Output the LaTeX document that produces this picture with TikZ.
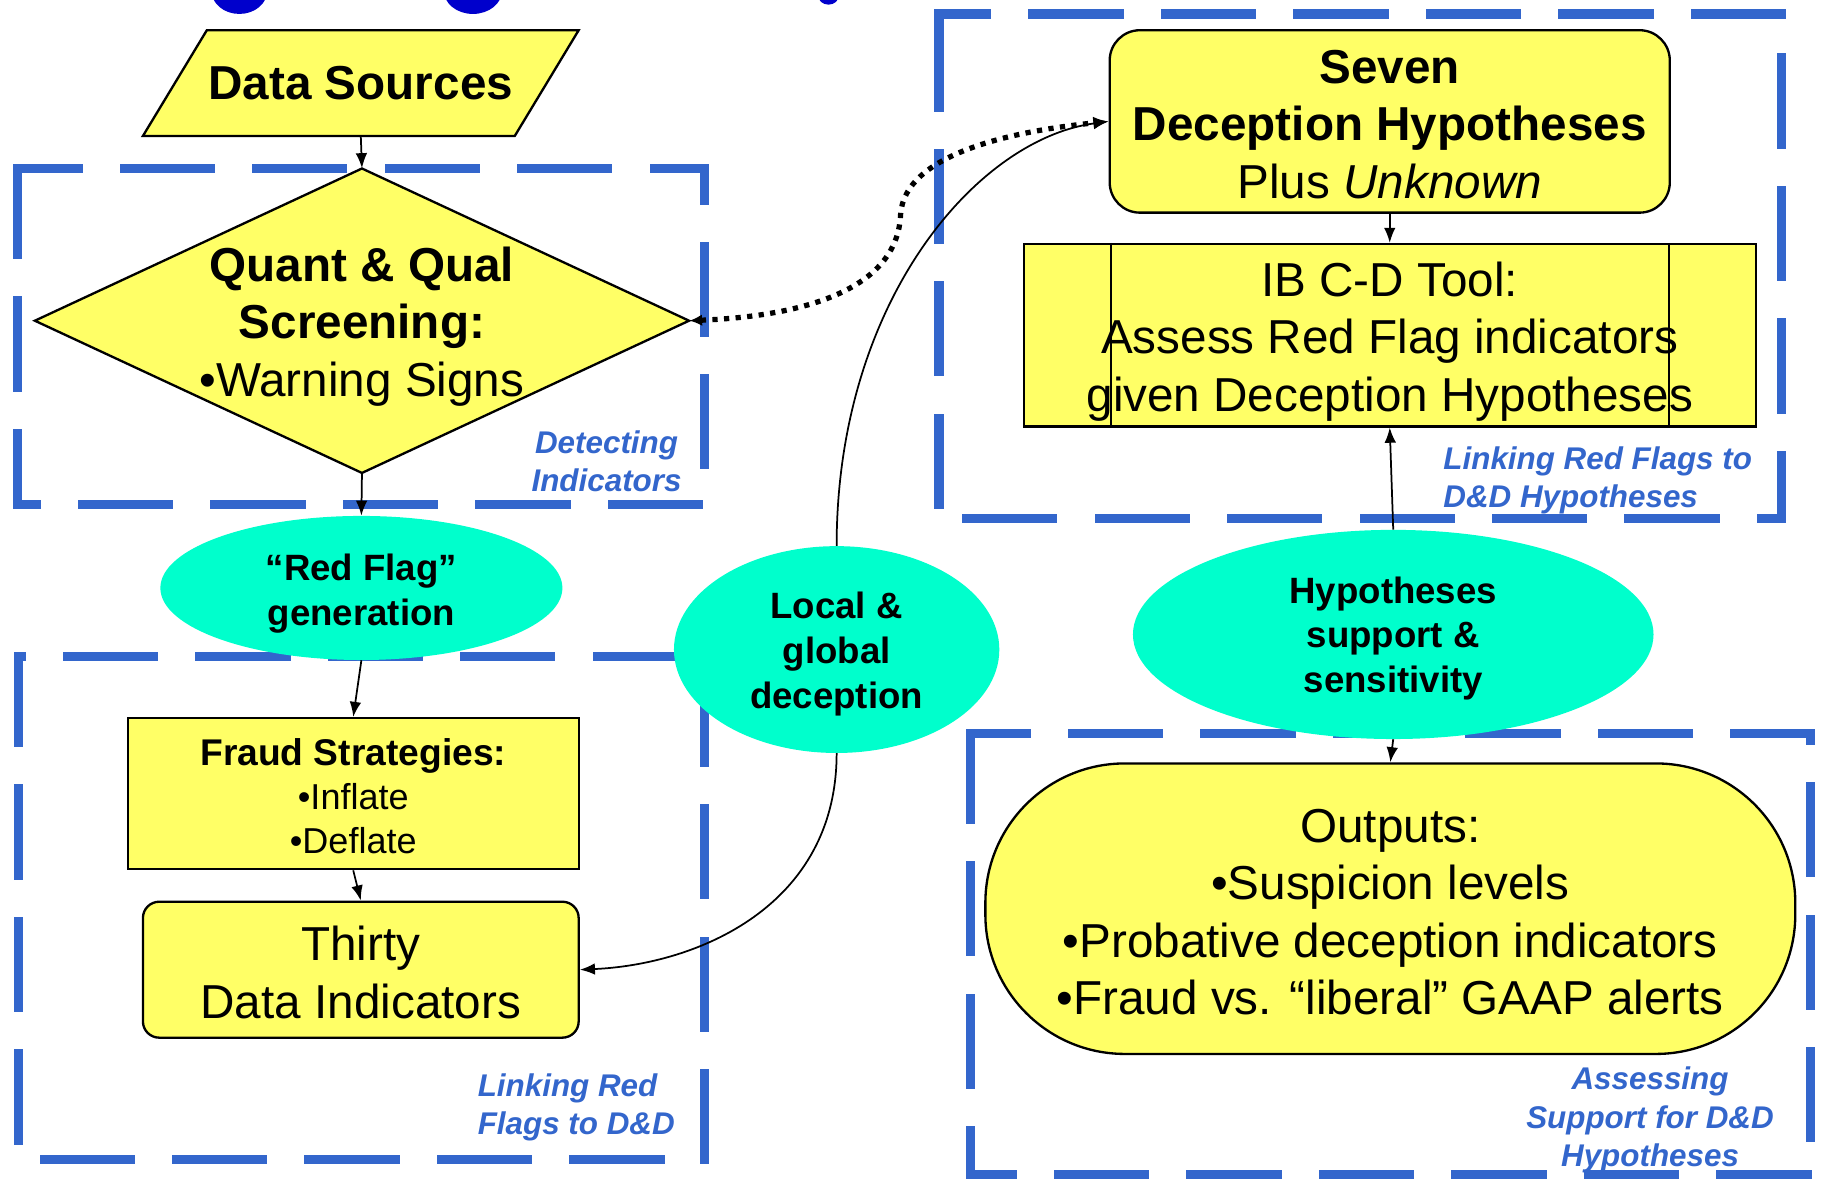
\documentclass[tikz,border=0pt]{standalone}
\usepackage{fontspec}
\setmainfont{Liberation Sans}
\usetikzlibrary{arrows.meta,shapes.geometric}
\definecolor{yelfill}{HTML}{FFFF66}
\definecolor{cyanfill}{HTML}{00FFCC}
\definecolor{grpblue}{HTML}{3366CC}
\definecolor{titleblue}{HTML}{0000CC}
% #1..#4: left, top, right, bottom; #5..#8: dash phase of top, left, right, bottom side
\newcommand\dashedgroup[8]{%
  \draw[grp, dash phase=#5pt] (#1,#2) -- (#3,#2);
  \draw[grp, dash phase=#6pt] (#1,#2) -- (#1,#4);
  \draw[grp, dash phase=#7pt] (#3,#2) -- (#3,#4);
  \draw[grp, dash phase=#8pt] (#1,#4) -- (#3,#4);}
\begin{document}
\begin{tikzpicture}[x=1pt,y=-1pt,
  grp/.style={draw=grpblue, line width=8pt, dash pattern=on 74pt off 40pt, line cap=rect},
  yel/.style={draw=black, fill=yelfill, line width=2pt, inner sep=0pt},
  bigtxt/.style={font=\fontsize{41}{49.5}\selectfont, align=center, inner sep=0pt},
  midtxt/.style={font=\fontsize{31.5}{38.5}\selectfont\bfseries, align=center, inner sep=0pt},
  cyanell/.style={ellipse, fill=cyanfill, draw=none, inner sep=0pt},
  labtxt/.style={font=\fontsize{27}{33}\selectfont\bfseries\itshape, text=grpblue, inner sep=0pt},
  conn/.style={line width=1.5pt, -{Latex[length=13pt,width=10pt]}},
  dots/.style={line width=4.5pt, dash pattern=on 4.5pt off 5.5pt,
    {Latex[length=11pt,width=10pt]}-{Latex[length=13pt,width=11pt]}}]
\useasboundingbox (0,0) rectangle (1568,1015);
\fill[white] (0,0) rectangle (1568,1015);

% dashed groups
\dashedgroup{15}{145}{606}{434}{22}{0}{47}{58}
\dashedgroup{16}{565}{606}{998}{72}{0}{97}{92}
\dashedgroup{808}{12}{1533}{446}{33}{108}{76}{90}
\dashedgroup{835}{631}{1558}{1011}{26}{0}{68}{38}

% Data Sources parallelogram
\draw[yel] (178,26) -- (498,26) -- (443,117) -- (123,117) -- cycle;
\node[bigtxt, minimum width=320pt, minimum height=91pt] (ds) at (310.5,71.5) {\bfseries Data Sources};

% Screening diamond
\draw[yel] (311.5,145) -- (593,276) -- (311.5,407) -- (30,276) -- cycle;
\node[minimum width=563pt, minimum height=262pt, inner sep=0pt] (dia) at (311.5,276) {};
\node[bigtxt] (diat) at ([yshift=-5pt]dia.center)
  {\bfseries Quant \& Qual\\ \bfseries Screening:\\ •Warning Signs};

% ellipses
\node[cyanell, minimum width=346pt, minimum height=124pt] (rf) at (311,506) {};
\node[midtxt] (rft) at ([yshift=-5pt]rf.center) {“Red Flag”\\ generation};
\node[cyanell, minimum width=280pt, minimum height=178pt] (loc) at (720,559) {};
\node[midtxt, font=\fontsize{31.5}{39}\selectfont\bfseries] (loct) at ([yshift=-4pt]loc.center)
  {Local \&\\ global\\ deception};
\node[cyanell, minimum width=448pt, minimum height=180pt] (hyp) at (1199,546) {};
\node[midtxt] (hypt) at ([yshift=-3.5pt]hyp.center) {Hypotheses\\ support \&\\ sensitivity};

% boxes
\node[yel, rectangle, minimum width=388pt, minimum height=130pt] (fr) at (304,683) {};
\node[bigtxt, font=\fontsize{31}{38}\selectfont] (frt) at ([yshift=-2pt]fr.center)
  {{\fontsize{32}{38}\selectfont\bfseries Fraud Strategies:}\\ •Inflate\\ •Deflate};
\node[yel, rectangle, rounded corners=14pt, minimum width=375pt, minimum height=117pt] (th) at (310.5,834.5) {};
\node[bigtxt] (tht) at ([yshift=-2.5pt]th.center) {Thirty\\ Data Indicators};
\node[yel, rectangle, rounded corners=26pt, minimum width=482pt, minimum height=157pt] (sev) at (1196,104.5) {};
\node[bigtxt] (sevt) at ([yshift=-2.5pt]sev.center)
  {\bfseries Seven\\ \bfseries Deception Hypotheses\\ Plus \textit{Unknown}};
\node[yel, rectangle, minimum width=630pt, minimum height=157pt] (ib) at (1196,288.5) {};
\draw[line width=1.5pt] ([xshift=76pt]ib.north west) -- ([xshift=76pt]ib.south west);
\draw[line width=1.5pt] ([xshift=-76pt]ib.north east) -- ([xshift=-76pt]ib.south east);
\node[bigtxt] (ibt) at ([yshift=-5.5pt]ib.center)
  {IB C-D Tool:\\ Assess Red Flag indicators\\ given Deception Hypotheses};
\node[yel, rectangle, rounded corners=120pt, minimum width=697pt, minimum height=250pt] (out) at (1196.5,782) {};
\node[bigtxt] (outt) at ([yshift=-3pt]out.center)
  {Outputs:\\ •Suspicion levels\\ •Probative deception indicators\\ •Fraud vs. “liberal” GAAP alerts};

% group labels
\node[labtxt, align=center] (l1) at (522,397) {Detecting\\ Indicators};
\node[labtxt, align=left, anchor=west] (l2) at (411,953) {Linking Red\\ Flags to D\&D};
\node[labtxt, align=left, anchor=west] (l3) at (1242,413.5) {Linking Red Flags to\\ D\&D Hypotheses};
\node[labtxt, align=center] (l4) at (1420,964) {Assessing\\ Support for D\&D\\ Hypotheses};

% connectors
\draw[conn] (ds.south) -- (dia.north);
\draw[conn] (dia.south) -- (rf.north);
\draw[conn] (rf.south) -- (fr.north);
\draw[conn] (fr.south) -- (th.north);
\draw[conn] (sev.south) -- (ib.north);
\draw[conn] (hyp.north) -- (ib.south);
\draw[conn] (hyp.south) -- (out.north);
\draw[conn] (loc.north) .. controls (720,260) and (840,120) .. (sev.west);
\draw[conn] (loc.south) .. controls (720,780) and (600,830) .. (th.east);
\draw[dots] (dia.east) .. controls (690,272) and (772,250) .. (775,185)
  .. controls (778,130) and (880,112) .. (sev.west);

% cut-off title (descenders only)
\fill[titleblue] (206,-8) ellipse [x radius=24, y radius=20];
\fill[titleblue] (407,-8) ellipse [x radius=25, y radius=20];
\fill[titleblue] (713,-4) ellipse [x radius=9, y radius=8];
\end{tikzpicture}
\end{document}
